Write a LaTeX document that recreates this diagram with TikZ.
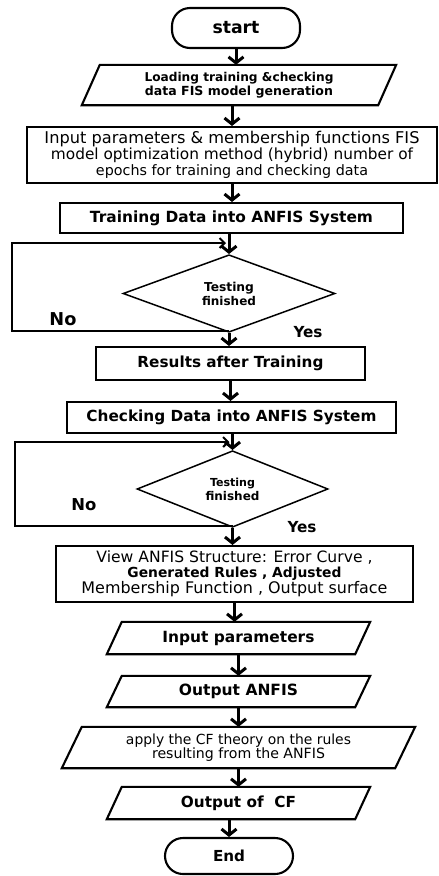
\documentclass[tikz,border=0pt]{standalone}
\usepackage{fontspec}
\setmainfont{DejaVu Sans}
\usetikzlibrary{arrows.meta,shapes.geometric,calc}
\newcommand{\tw}[2]{\resizebox{#1pt}{!}{#2}}
\newcommand{\twb}[2]{\resizebox{#1pt}{!}{\bfseries #2}}
\begin{document}
\begin{tikzpicture}[x=1pt,y=-1pt,
  box/.style={draw, line width=2.1pt, inner sep=0pt, align=center},
  txt/.style={inner sep=0pt, align=center},
  term/.style={draw, line width=2.1pt, inner sep=0pt, rounded corners=18pt},
  dec/.style={draw, diamond, line width=1.5pt, inner sep=0pt, align=center},
  shp/.style={draw, line width=2.1pt, line join=miter},
  lbl/.style={inner sep=0pt},
  arr/.style={line width=3pt, -{Straight Barb[length=6pt,width=15pt]}},
  lp/.style={line width=2pt, -{Straight Barb[length=5pt,width=10pt]}}]
\fill[white] (0,0) rectangle (439,876);
\useasboundingbox (0,0) rectangle (439,876);

\node[term, minimum width=128pt, minimum height=40pt] (start) at (236,28) {\twb{47}{start}};

\node[txt, minimum width=296pt, minimum height=40pt, font=\fontsize{10}{14}\selectfont] (p1) at (239,85)
  {\twb{189}{Loading training \&checking}\\\twb{188}{data FIS model generation}};
\draw[shp] ([xshift=-9pt]p1.south west) -- ([xshift=9pt]p1.north west) -- ([xshift=9pt]p1.north east) -- ([xshift=-9pt]p1.south east) -- cycle;

\node[box, minimum width=410pt, minimum height=56pt, font=\fontsize{10}{16}\selectfont] (r2) at (232,155)
  {\tw{375}{Input parameters \& membership functions FIS}\\\tw{362}{model optimization method (hybrid) number of}\\\tw{272}{epochs for training and checking data}};

\node[box, minimum width=343pt, minimum height=30pt] (train) at (231.5,218) {\twb{283}{Training Data into ANFIS System}};

\node[dec, minimum width=212pt, minimum height=67pt, font=\fontsize{10}{14}\selectfont] (d1) at (229,293.5)
  {\twb{50}{Testing}\\\twb{54}{finished}};

\node[box, minimum width=269pt, minimum height=33pt] (res) at (230.5,363.5) {\twb{186}{Results after Training}};

\node[box, minimum width=329pt, minimum height=31pt] (chk) at (231.5,417.5) {\twb{290}{Checking Data into ANFIS System}};

\node[dec, minimum width=191pt, minimum height=66pt, font=\fontsize{10}{14}\selectfont] (d2) at (232.5,489)
  {\twb{45}{Testing}\\\twb{54}{finished}};

\node[box, minimum width=357pt, minimum height=56pt, font=\fontsize{10}{14.5}\selectfont] (view) at (234.5,574)
  {\tw{276}{View ANFIS Structure: Error Curve ,}\\\twb{214}{Generated Rules , Adjusted}\\\tw{306}{Membership Function , Output surface}};

\node[txt, minimum width=248pt, minimum height=32pt] (inp) at (238.5,638) {\twb{152}{Input parameters}};
\draw[shp] ([xshift=-7.5pt]inp.south west) -- ([xshift=7.5pt]inp.north west) -- ([xshift=7.5pt]inp.north east) -- ([xshift=-7.5pt]inp.south east) -- cycle;

\node[txt, minimum width=248pt, minimum height=31pt] (outa) at (238.5,691.5) {\twb{119}{Output ANFIS}};
\draw[shp] ([xshift=-7.5pt]outa.south west) -- ([xshift=7.5pt]outa.north west) -- ([xshift=7.5pt]outa.north east) -- ([xshift=-7.5pt]outa.south east) -- cycle;

\node[txt, minimum width=333pt, minimum height=41pt, font=\fontsize{10}{13}\selectfont] (app) at (238.5,747.5)
  {\tw{225}{apply the CF theory on the rules}\\\tw{173}{resulting from the ANFIS}};
\draw[shp] ([xshift=-10pt]app.south west) -- ([xshift=10pt]app.north west) -- ([xshift=10pt]app.north east) -- ([xshift=-10pt]app.south east) -- cycle;

\node[txt, minimum width=248pt, minimum height=32pt] (ocf) at (238.5,803) {\twb{115}{Output of\ \ CF}};
\draw[shp] ([xshift=-7.5pt]ocf.south west) -- ([xshift=7.5pt]ocf.north west) -- ([xshift=7.5pt]ocf.north east) -- ([xshift=-7.5pt]ocf.south east) -- cycle;

\node[term, minimum width=128pt, minimum height=36pt] (end) at (229,856) {\twb{32}{End}};

% main arrows
\draw[arr] (start.south) -- (start.south |- p1.north);
\draw[arr] (p1.south -| r2.north) -- (r2.north);
\draw[arr] (r2.south) -- (r2.south |- train.north);
\draw[arr] (d1.north |- train.south) -- (d1.north);
\draw[arr] (d1.south) -- (d1.south |- res.north);
\draw[arr] (res.south) -- (res.south |- chk.north);
\draw[arr] (d2.north |- chk.south) -- (d2.north);
\draw[arr] (d2.south) -- (d2.south |- view.north);
\draw[arr] (view.south) -- (view.south |- inp.north);
\draw[arr] (inp.south) -- (inp.south |- outa.north);
\draw[arr] (outa.south) -- (outa.south |- app.north);
\draw[arr] (app.south) -- (app.south |- ocf.north);
\draw[arr] (end.north |- ocf.south) -- (end.north);

% loops
\coordinate (m1) at (229,331);
\coordinate (a1) at (12,331);
\coordinate (b1) at (12,243);
\coordinate (c1) at (226,243);
\draw[lp] (m1) -- (a1) -- (b1) -- (c1);
\coordinate (m2) at (232.5,526);
\coordinate (a2) at (15,526);
\coordinate (b2) at (15,442);
\coordinate (c2) at (229.5,442);
\draw[lp] (m2) -- (a2) -- (b2) -- (c2);

\node[lbl] (no1) at (63,319) {\twb{27}{No}};
\node[lbl] (yes1) at (308,332) {\twb{29}{Yes}};
\node[lbl] (no2) at (84,505) {\twb{25}{No}};
\node[lbl] (yes2) at (302,527) {\twb{29}{Yes}};
\end{tikzpicture}
\end{document}
